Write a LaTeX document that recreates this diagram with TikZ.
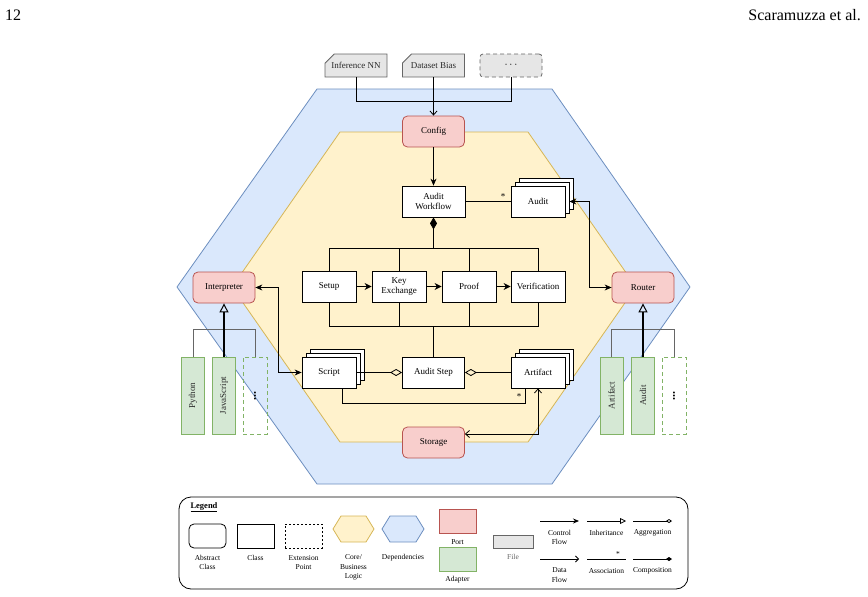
\documentclass[tikz,border=0pt]{standalone}
\usepackage{fontspec}
\setmainfont{Liberation Serif}
\usetikzlibrary{arrows.meta,shapes.misc}
\definecolor{blueF}{HTML}{DAE8FC}
\definecolor{blueD}{HTML}{6C8EBF}
\definecolor{yelF}{HTML}{FFF2CC}
\definecolor{yelD}{HTML}{D6B656}
\definecolor{redF}{HTML}{F8CECC}
\definecolor{redD}{HTML}{B85450}
\definecolor{grnF}{HTML}{D5E8D4}
\definecolor{grnD}{HTML}{82B366}
\definecolor{fileF}{HTML}{E6E6E6}
\definecolor{fileD}{HTML}{666666}
\definecolor{txtG}{HTML}{2A2A2A}
\begin{document}
\begin{tikzpicture}[x=1pt,y=-1pt,
  mainfont/.style={font=\fontsize{9}{10.8}\selectfont},
  legfont/.style={font=\fontsize{7.5}{9.2}\selectfont, align=center, inner sep=0pt},
  box/.style={draw, line width=0.8pt, inner sep=1pt, align=center, mainfont},
  cls/.style={box, fill=white, minimum width=54pt, minimum height=31pt},
  port/.style={box, fill=redF, draw=redD, rounded corners=5pt, minimum width=62pt, minimum height=31pt},
  adapter/.style={box, fill=grnF, draw=grnD, minimum width=23pt, minimum height=77pt, text=txtG},
  extpt/.style={box, draw=grnD, dash pattern=on 4pt off 3pt, minimum width=24pt, minimum height=77pt},
  filebox/.style={box, fill=fileF, draw=fileD, text=txtG, chamfered rectangle, chamfered rectangle corners=north west, chamfered rectangle xsep=5pt, chamfered rectangle ysep=5pt, minimum width=62pt, minimum height=23pt},
  conn/.style={line width=0.8pt},
  cflow/.style={conn, -{Stealth[length=7pt,width=6pt]}},
  cflowboth/.style={conn, {Stealth[length=7pt,width=6pt]}-{Stealth[length=7pt,width=6pt]}},
  dflow/.style={conn, -{Straight Barb[length=4pt,width=7pt]}},
  dflowboth/.style={conn, {Straight Barb[length=4pt,width=7pt]}-{Straight Barb[length=4pt,width=7pt]}},
  thickarrow/.style={line width=1.6pt, -{Stealth[length=7pt,width=7pt]}},
  gline/.style={line width=0.8pt, draw=fileD},
  inh/.style={line width=1.2pt, -{Triangle[open, length=9pt, width=9pt, line width=1pt]}},
  agg/.style={conn, -{Diamond[open, length=12pt, width=7pt]}},
  comp/.style={conn, -{Diamond[length=12pt, width=7pt]}},
  star/.style={font=\fontsize{9}{10}\selectfont, inner sep=0pt},
  vdots/.style={font=\fontsize{12}{12}\selectfont\bfseries}
]
\useasboundingbox (0,0) rectangle (868,597);

% header
\node[anchor=base west, font=\fontsize{16}{18}\selectfont, inner sep=0pt] (pgnum) at (5,20) {12};
\node[anchor=base east, font=\fontsize{16}{18}\selectfont, inner sep=0pt] (auth) at (861,20) {Scaramuzza et al.};

% hexagons
\draw[fill=blueF, draw=blueD, line width=0.8pt] (317,89) -- (552,89) -- (690,287) -- (552,484) -- (317,484) -- (177,287) -- cycle;
\draw[fill=yelF, draw=yelD, line width=0.8pt] (340,132) -- (528,132) -- (636,287) -- (528,442) -- (340,442) -- (232,287) -- cycle;

% files
\node[filebox] (inf) at (356,65.5) {Inference NN};
\node[filebox] (dsb) at (433.5,65.5) {Dataset Bias};
\node[box, fill=fileF, draw=fileD, dash pattern=on 4pt off 3pt, rounded corners=3pt, minimum width=62pt, minimum height=23pt] (fdots) at (511,65.5) {\fontsize{11}{11}\selectfont$\cdots$};

% ports
\node[port] (config) at (433.5,131.5) {Config};
\node[port] (storage) at (433.5,442.5) {Storage};
\node[port] (interp) at (224,287.5) {Interpreter};
\node[port] (router) at (643,287.5) {Router};

% core classes
\node[cls, minimum width=63pt] (aw) at (433.5,201.5) {Audit\\Workflow};
\node[cls] (audit2) at (546,193.5) {};
\node[cls] (audit1) at (542,197.5) {};
\node[cls] (audit) at (538,201.5) {Audit};

\node[cls] (setup) at (329,286.5) {Setup};
\node[cls] (kex) at (399,286.5) {Key\\Exchange};
\node[cls] (proof) at (469,286.5) {Proof};
\node[cls] (verif) at (538,286.5) {Verification};

\node[cls, minimum width=62pt] (astep) at (433.5,372.5) {Audit Step};
\node[cls] (script2) at (337,364.5) {};
\node[cls] (script1) at (333,368.5) {};
\node[cls] (script) at (329,372.5) {Script};
\node[cls] (artifact2) at (546,364.5) {};
\node[cls] (artifact1) at (542,368.5) {};
\node[cls] (artifact) at (538,372.5) {Artifact};

% adapters
\node[adapter] (python) at (193,395.5) {\rotatebox{90}{Python}};
\node[adapter] (js) at (224,395.5) {\rotatebox{90}{JavaScript}};
\node[extpt] (ldots) at (255,395.5) {\rotatebox{90}{\fontsize{12}{12}\selectfont\bfseries...}};
\node[adapter] (rart) at (611.5,395.5) {\rotatebox{90}{Artifact}};
\node[adapter] (raudit) at (643,395.5) {\rotatebox{90}{Audit}};
\node[extpt] (rdots) at (674,395.5) {\rotatebox{90}{\fontsize{12}{12}\selectfont\bfseries...}};

% connectors: files -> config
\draw[conn] (inf.south) -- ++(0,24) -| (fdots.south);
\draw[dflow] (dsb.south) -- (config.north);
\draw[cflow] (config.south) -- (aw.north);

% association aw - audit
\draw[conn] (aw.east) -- (audit.west);
\node[star] (st1) at (503,197) {*};

% composition bus
\coordinate (cbus) at (433.5,248);
\draw[conn] (setup.north) |- (verif.north |- cbus) -- (verif.north);
\draw[conn] (kex.north) -- (kex.north |- cbus);
\draw[conn] (proof.north) -- (proof.north |- cbus);
\draw[comp] (cbus) -- (aw.south);

% process arrows
\draw[thickarrow] (setup.east) -- (kex.west);
\draw[thickarrow] (kex.east) -- (proof.west);
\draw[thickarrow] (proof.east) -- (verif.west);

% bottom bus
\coordinate (bbus) at (433.5,326);
\draw[conn] (setup.south) |- (verif.south |- bbus) -- (verif.south);
\draw[conn] (kex.south) -- (kex.south |- bbus);
\draw[conn] (proof.south) -- (proof.south |- bbus);
\draw[conn] (bbus) -- (astep.north);

% aggregation
\draw[agg] (script.east) -- (astep.west);
\draw[agg] (artifact.west) -- (astep.east);

% association script - artifact
\draw[conn] ([xshift=13pt]script.south) |- ([xshift=-13pt,yshift=-15pt]artifact.south) -- ([xshift=-13pt]artifact.south);
\node[star] (st2) at (519,397) {*};

% storage <-> artifact
\draw[dflowboth] ([yshift=8.5pt]storage.east) -| (artifact.south);

% interpreter <-> script
\draw[cflowboth] (interp.east) -- ++(23,0) |- (script.west);

% audit <-> router
\draw[cflowboth] (audit.east -| audit1.east) -- ++(20,0) |- (router.west);

% inheritance
\coordinate (lbus) at (224,329);
\draw[gline] (python.north) |- (ldots.north |- lbus) -- (ldots.north);
\draw[inh] (js.north) -- (interp.south);
\coordinate (rbus) at (643,329);
\draw[gline] (rart.north) |- (rdots.north |- rbus) -- (rdots.north);
\draw[inh] (raudit.north) -- (router.south);

% legend
\node[draw, rounded corners=12pt, line width=0.8pt, minimum width=509pt, minimum height=92pt] (legend) at (433.5,543) {};
\node[font=\bfseries\fontsize{8.5}{10}\selectfont, inner sep=0pt] (ltitle) at (204,507) {\underline{Legend}};

\node[draw, rounded corners=5pt, line width=0.8pt, minimum width=37pt, minimum height=24pt] (lac) at (207.5,536) {};
\node[draw, line width=0.8pt, minimum width=37pt, minimum height=24pt] (lcl) at (255.5,536) {};
\node[draw, dash pattern=on 2pt off 2pt, line width=0.8pt, minimum width=37pt, minimum height=24pt] (lext) at (303.5,536) {};
\draw[fill=yelF, draw=yelD, line width=0.8pt] (333,529) -- (341,516) -- (366,516) -- (374,529) -- (366,542) -- (341,542) -- cycle;
\draw[fill=blueF, draw=blueD, line width=0.8pt] (382,529) -- (390,516) -- (416,516) -- (424,529) -- (416,542) -- (390,542) -- cycle;
\node[draw=redD, fill=redF, line width=0.8pt, minimum width=37pt, minimum height=24pt] (lport) at (457.5,521) {};
\node[draw=grnD, fill=grnF, line width=0.8pt, minimum width=37pt, minimum height=24pt] (ladapt) at (457.5,559) {};
\node[fill=fileF, draw=fileD, line width=0.8pt, chamfered rectangle, chamfered rectangle corners=north west, chamfered rectangle xsep=4pt, chamfered rectangle ysep=4pt, minimum width=40pt, minimum height=13pt, inner sep=0pt] (lfile) at (513,541.5) {};

\node[legfont] (tac) at (207.5,562.5) {Abstract\\Class};
\node[legfont] (tcl) at (255.5,558) {Class};
\node[legfont] (text) at (303.5,562.5) {Extension\\Point};
\node[legfont] (tcore) at (353.5,567.5) {Core/\\Business\\Logic};
\node[legfont] (tdep) at (403,558) {Dependencies};
\node[legfont] (tport) at (457.5,542) {Port};
\node[legfont] (tadapt) at (457.5,580) {Adapter};
\node[legfont, text=fileD] (tfile) at (513,557) {File};
\node[legfont] (tcf) at (559.5,537.5) {Control\\Flow};
\node[legfont] (tinh) at (606.5,533) {Inheritance};
\node[legfont] (tagg) at (652.5,533) {Aggregation};
\node[legfont] (tdf) at (559.5,575) {Data\\Flow};
\node[legfont] (tass) at (606.5,571) {Association};
\node[legfont] (tcomp) at (652.5,571) {Composition};

\coordinate (cfa) at (540,521); \coordinate (cfb) at (579,521);
\coordinate (iha) at (587,521); \coordinate (ihb) at (626,521);
\coordinate (aga) at (633,521); \coordinate (agb) at (672,521);
\coordinate (dfa) at (540,559); \coordinate (dfb) at (579,559);
\coordinate (asa) at (587,559); \coordinate (asb) at (626,559);
\coordinate (coa) at (633,559); \coordinate (cob) at (672,559);
\draw[conn, -{Stealth[length=6pt,width=5pt]}] (cfa) -- (cfb);
\draw[conn, -{Triangle[open, length=6pt, width=6pt]}] (iha) -- (ihb);
\draw[conn, -{Diamond[open, length=6pt, width=4pt]}] (aga) -- (agb);
\draw[conn, -{Straight Barb[length=3pt,width=6pt]}] (dfa) -- (dfb);
\draw[conn] (asa) -- (asb);
\node[star, font=\fontsize{7.5}{8}\selectfont] (st3) at (618,554) {*};
\draw[conn, -{Diamond[length=6pt, width=4pt]}] (coa) -- (cob);
\end{tikzpicture}
\end{document}
